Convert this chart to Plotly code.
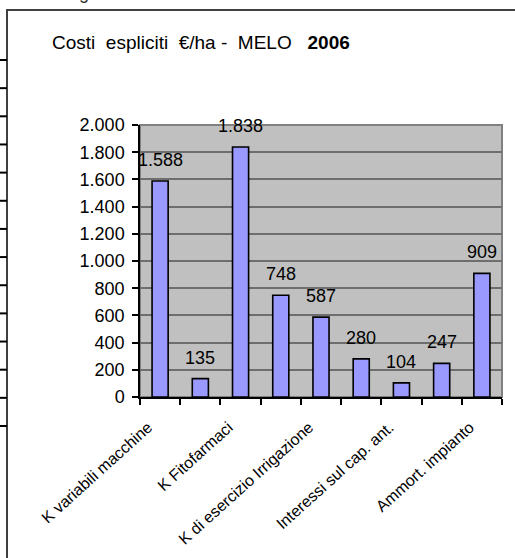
import plotly.graph_objects as go

# ---- data ----
tick_labels = ["K variabili macchine", "", "K Fitofarmaci", "", "K di esercizio Irrigazione",
               "", "Interessi sul cap. ant.", "", "Ammort. impianto"]
values = [1588, 135, 1838, 748, 587, 280, 104, 247, 909]
y_ticks = [0, 200, 400, 600, 800, 1000, 1200, 1400, 1600, 1800, 2000]

positions = list(range(len(values)))
FONT = "Liberation Sans, Arial, sans-serif"

W, H = 515, 558
L, R, T, B = 140, 502, 125, 397  # plot area in px


def px(xp):
    return (xp - L) / (R - L)


def py(yp):
    return (B - yp) / (B - T)


def it_fmt(v):
    return f"{v:,}".replace(",", ".")


fig = go.Figure()
fig.add_trace(go.Bar(
    x=positions, y=values, width=0.4,
    marker=dict(color="#9999FF", line=dict(color="black", width=1.6)),
    hoverinfo="skip", showlegend=False,
))
# invisible helper trace so the label axis is drawn
fig.add_trace(go.Scatter(
    x=positions, y=[0] * len(positions), xaxis="x2", yaxis="y",
    mode="markers", marker=dict(opacity=0), hoverinfo="skip", showlegend=False,
))

annotations = []
for xi, v in zip(positions, values):
    annotations.append(dict(
        x=xi, y=v, xref="x", yref="y", text=it_fmt(v), showarrow=False,
        yanchor="bottom", xanchor="center", yshift=9,
        font=dict(family=FONT, size=18, color="black"),
    ))

annotations.append(dict(
    x=px(50), y=py(43), xref="paper", yref="paper", xanchor="left", yanchor="middle",
    text="Costi\u00a0\u00a0espliciti\u00a0\u00a0€/ha\u00a0-\u00a0\u00a0MELO\u00a0\u00a0\u00a0<b>2006</b>",
    showarrow=False, font=dict(family=FONT, size=19, color="black"),
))
annotations.append(dict(
    x=px(84), y=py(-7), xref="paper", yref="paper", xanchor="center", yanchor="middle",
    text="g", showarrow=False, font=dict(family=FONT, size=18, color="#333"),
))

shapes = []
# plot area border (grey)
shapes.append(dict(type="rect", xref="paper", yref="paper", x0=0, y0=0, x1=1, y1=1,
                   line=dict(color="#808080", width=2), layer="below"))
# outer frame
shapes.append(dict(type="rect", xref="paper", yref="paper",
                   x0=px(7), y0=py(562), x1=px(520), y1=py(10),
                   line=dict(color="#404040", width=2)))
# small ticks on the left edge (background page)
for k in range(14):
    yy = 60 + k * (426 - 60) / 13
    shapes.append(dict(type="line", xref="paper", yref="paper",
                       x0=px(-2), x1=px(7), y0=py(yy), y1=py(yy),
                       line=dict(color="black", width=2)))

fig.update_layout(
    width=W, height=H,
    margin=dict(l=L, r=W - R, t=T, b=H - B, pad=0, autoexpand=False),
    paper_bgcolor="white", plot_bgcolor="#C0C0C0",
    separators=",.",
    font=dict(family=FONT, size=18, color="black"),
    xaxis=dict(
        range=[-0.5, len(values) - 0.5],
        tickvals=[p - 0.5 for p in positions] + [len(values) - 0.5],
        showticklabels=False, ticks="outside", ticklen=6, tickwidth=1.5, tickcolor="black",
        showline=True, linecolor="black", linewidth=1.5, showgrid=False, zeroline=False,
        automargin=False, fixedrange=True,
    ),
    xaxis2=dict(
        overlaying="x", anchor="y", side="bottom",
        range=[-0.5, len(values) - 0.5],
        tickmode="array", tickvals=positions, ticktext=tick_labels,
        tickangle=-42, ticks="", showline=False, showgrid=False, zeroline=False,
        tickfont=dict(family=FONT, size=16, color="black"),
        ticklabelstandoff=17, ticklabelshift=-12,
        automargin=False, fixedrange=True,
    ),
    yaxis=dict(
        range=[0, 2000], tickvals=y_ticks, tickformat=",d",
        ticks="outside", ticklen=6, tickwidth=1.5, tickcolor="black",
        showline=True, linecolor="black", linewidth=1.5,
        showgrid=True, gridcolor="#6e6e6e", gridwidth=1.5, zeroline=False,
        tickfont=dict(family=FONT, size=18, color="black"),
        ticklabelstandoff=4,
        automargin=False, fixedrange=True,
    ),
    annotations=annotations,
    shapes=shapes,
)

fig.write_html("out.html", config={"displayModeBar": False},
               post_script="document.body.style.margin='0';document.body.style.overflow='hidden';")
